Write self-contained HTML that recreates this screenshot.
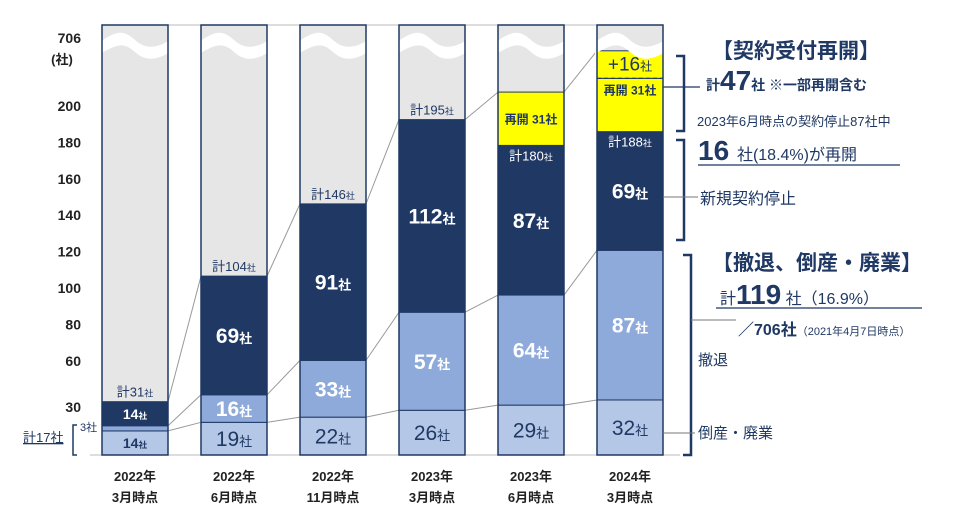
<!DOCTYPE html>
<html><head><meta charset="utf-8"><style>
html,body{margin:0;padding:0;background:#fff;}
svg{display:block;font-family:"Liberation Sans","Noto Sans CJK JP",sans-serif;}
</style></head><body>
<svg id="chart" width="979" height="518" viewBox="0 0 979 518" xmlns="http://www.w3.org/2000/svg">
<g id="axis"></g>
<g id="bars"></g>
<g id="ann" fill="#1f3864">
  <text x="712" y="58" font-size="21" font-weight="bold">【契約受付再開】</text>
  <text x="706" y="90" font-size="14" font-weight="bold">計<tspan font-size="28">47</tspan>社 ※一部再開含む</text>
  <text x="697" y="126" font-size="13">2023年6月時点の契約停止87社中</text>
  <text x="698" y="160" font-size="16"><tspan font-size="28" font-weight="bold">16 </tspan>社(18.4%)が再開</text>
  <line x1="698" y1="165" x2="900" y2="165" stroke="#1f3864" stroke-width="1.2"/>
  <text x="700" y="204" font-size="16">新規契約停止</text>
  <text x="712" y="270" font-size="21" font-weight="bold">【撤退、倒産・廃業】</text>
  <text x="720" y="304" font-size="16">計<tspan font-size="28" font-weight="bold">119</tspan> 社（16.9%）</text>
  <line x1="716" y1="308" x2="922" y2="308" stroke="#1f3864" stroke-width="1.2"/>
  <text x="738" y="335" font-size="16" font-weight="bold">／706社<tspan font-size="11" font-weight="normal">（2021年4月7日時点）</tspan></text>
  <text x="698" y="365" font-size="15">撤退</text>
  <text x="698" y="438" font-size="15">倒産・廃業</text>
  <path d="M676,56 H684 V131 H676" fill="none" stroke="#1f3864" stroke-width="2.5"/>
  <line x1="663" y1="87" x2="700" y2="87" stroke="#1f3864" stroke-width="1.2"/>
  <path d="M676,140 H684 V240 H676" fill="none" stroke="#1f3864" stroke-width="2.5"/>
  <path d="M683,255 H691 V455 H683" fill="none" stroke="#1f3864" stroke-width="2.5"/>
  <line x1="663" y1="197" x2="698" y2="197" stroke="#777" stroke-width="1"/>
  <line x1="663" y1="433" x2="695" y2="433" stroke="#777" stroke-width="1"/>
  <line x1="691" y1="320" x2="736" y2="320" stroke="#777" stroke-width="1"/>
  <text x="23" y="442" font-size="13" text-decoration="underline">計17社</text>
  <path d="M77,425 H73 V455 H77" fill="none" stroke="#1f3864" stroke-width="1.5"/>
  <text x="80" y="431" font-size="11">3社</text>
</g>
</svg>
<script>
const categories=["2022年|3月時点","2022年|6月時点","2022年|11月時点","2023年|3月時点","2023年|6月時点","2024年|3月時点"];
const bankrupt=[14,19,22,26,29,32];
const withdraw=[3,16,33,57,64,87];
const stopped=[14,69,91,112,87,69];
const reopened=[0,0,0,0,31,31];
const added=[0,0,0,0,0,16];
const totals=[31,104,146,195,180,188];
const tickValues=[30,60,80,100,120,140,160,180,200];
const NS="http://www.w3.org/2000/svg";
const yS=v=>455-v*1.72;
const xS=i=>102+i*99;
const BW=66;
const tickY=v=>v===30?412:471-v*1.82+4;
function mk(tag,attrs,parent,txt){const e=document.createElementNS(NS,tag);for(const k in attrs)e.setAttribute(k,attrs[k]);if(txt!==undefined)e.textContent=txt;parent.appendChild(e);return e;}
const ax=document.getElementById('axis'),bg=document.getElementById('bars');
tickValues.forEach(v=>{const t=mk('text',{x:81,y:tickY(v),'text-anchor':'end','font-size':14,'font-weight':'bold',fill:'#222'},ax,String(v));

});
const t706=mk('text',{x:81,y:43,'text-anchor':'end','font-size':14,'font-weight':'bold',fill:'#222'},ax,'706');


const tu=mk('text',{x:62,y:64,'text-anchor':'middle','font-size':13,'font-weight':'bold',fill:'#222'},ax,'(社)');


mk('line',{x1:90,y1:455,x2:680,y2:455,stroke:'#bbb','stroke-width':1},ax);
mk('line',{x1:102,y1:25,x2:663,y2:25,stroke:'#bbb','stroke-width':1},ax);
for(let i=0;i<categories.length-1;i++){
 const a=[bankrupt[i],bankrupt[i]+withdraw[i],bankrupt[i]+withdraw[i]+stopped[i]+reopened[i]+added[i]];
 const b=[bankrupt[i+1],bankrupt[i+1]+withdraw[i+1],bankrupt[i+1]+withdraw[i+1]+stopped[i+1]+reopened[i+1]+added[i+1]];
 for(let k=0;k<3;k++){const l=mk('line',{x1:xS(i)+BW,y1:yS(a[k]),x2:xS(i+1),y2:yS(b[k]),stroke:'#999','stroke-width':1},bg);
 
 }
}
categories.forEach((c,i)=>{
 const g=mk('g',{},bg);
 
 
 const X=xS(i);
 mk('rect',{x:X,y:25,width:BW,height:430,fill:'#e7e6e6'},g);
 let base=0;
 const segs=[[bankrupt[i],'#b4c7e7','#1f3864'],[withdraw[i],'#8eaadb','#fff'],[stopped[i],'#1f3864','#fff'],[reopened[i],'#ffff00','#1f3864'],[added[i],'#ffff00','#1f3864']];
 const names=['bankrupt','withdraw','stopped','reopened','added'];
 segs.forEach((s,k)=>{
  const v=s[0];if(!v)return;
  const r=mk('rect',{x:X,y:yS(base+v),width:BW,height:v*1.72,fill:s[1],stroke:'#1f3864','stroke-width':1},g);
  
  
  const cy=yS(base+v/2);
  const big=(i===0)?14:21;
  if(v>=10){
   if(k===3){mk('text',{x:X+BW/2,y:(i===5?yS(base+v)+16:cy+5),'text-anchor':'middle','font-size':12,'font-weight':'bold',fill:s[2]},g,'再開 '+v+'社');}
   else if(k===4){const t=mk('text',{x:X+BW/2,y:cy+6,'text-anchor':'middle','font-size':19,fill:s[2]},g);mk('tspan',{},t,'+'+v);mk('tspan',{'font-size':12},t,'社');}
   else{const t=mk('text',{x:X+BW/2,y:cy+big*0.36,'text-anchor':'middle','font-size':big,'font-weight':(i===0||k>0?'bold':'normal'),fill:s[2]},g);mk('tspan',{},t,String(v));mk('tspan',{'font-size':big*0.62},t,'社');}
  }
  if(k===4){mk('line',{x1:X,y1:yS(base),x2:X+BW,y2:yS(base),stroke:'#1f3864','stroke-dasharray':'4,3','stroke-width':1.2},g);}
  base+=v;
 });
 const inside=(reopened[i]>0);
 const tt=mk('text',{x:X+BW/2,y:inside?yS(totals[i])+15:yS(totals[i])-5,'text-anchor':'middle','font-size':13,fill:inside?'#fff':'#1f3864'},g);
 
 
 mk('tspan',{},tt,'計'+totals[i]);mk('tspan',{'font-size':9},tt,'社');
 mk('path',{d:`M${X-2},42 C${X+15},30 ${X+22},30 ${X+33},40 C${X+44},50 ${X+55},48 ${X+BW+2},40 L${X+BW+2},52 C${X+55},60 ${X+44},62 ${X+33},52 C${X+22},42 ${X+15},44 ${X-2},54 Z`,fill:'#fff'},g);
 mk('rect',{x:X,y:25,width:BW,height:430,fill:'none',stroke:'#1f3864','stroke-width':1.5},g);
 const parts=c.split('|');
 const xl=mk('text',{x:X+BW/2,y:481,'text-anchor':'middle','font-size':13,'font-weight':'bold',fill:'#222'},g,parts[0]);
 
 
 mk('text',{x:X+BW/2,y:502,'text-anchor':'middle','font-size':13,'font-weight':'bold',fill:'#222'},g,parts[1]);
});
</script>
</body></html>
